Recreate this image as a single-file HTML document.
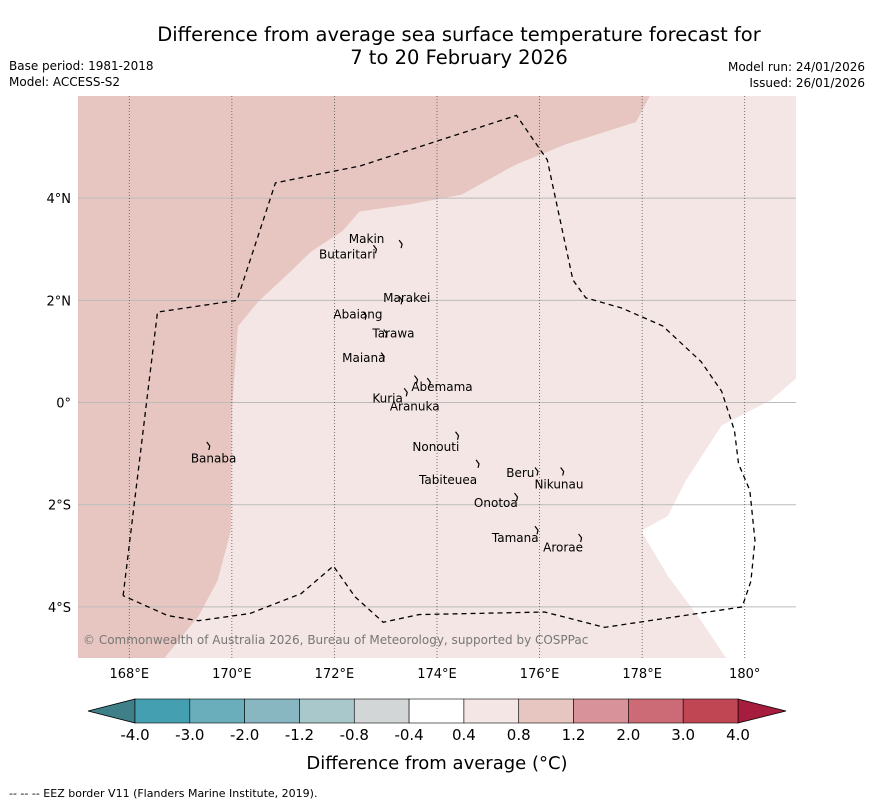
<!DOCTYPE html>
<html><head><meta charset="utf-8"><style>
body{margin:0;background:#fff;font-family:"Liberation Sans","DejaVu Sans",sans-serif}
svg{display:block}
</style></head><body>
<svg id="c" width="873" height="804" xmlns="http://www.w3.org/2000/svg" font-family="DejaVu Sans, Liberation Sans, sans-serif">
<text x="459" y="41" font-size="19.5" text-anchor="middle">Difference from average sea surface temperature forecast for</text>
<text x="459" y="64" font-size="19.5" text-anchor="middle">7 to 20 February 2026</text>
<text x="9" y="70" font-size="12">Base period: 1981-2018</text>
<text x="9" y="86" font-size="12">Model: ACCESS-S2</text>
<text x="865" y="71" font-size="12" text-anchor="end">Model run: 24/01/2026</text>
<text x="865" y="87" font-size="12" text-anchor="end">Issued: 26/01/2026</text>
<g id="map"></g>
<g id="cb"></g>
<text x="437" y="769" font-size="18" text-anchor="middle">Difference from average (°C)</text>
<text x="9" y="797" font-size="11">-- -- -- EEZ border V11 (Flanders Marine Institute, 2019).</text>
</svg>
<script>
const lonTicks=[168,170,172,174,176,178,180];
const latTicks=[4,2,0,-2,-4];
const levels=["-4.0","-3.0","-2.0","-1.2","-0.8","-0.4","0.4","0.8","1.2","2.0","3.0","4.0"];
const levelColors=["#44a0b0","#6aaebb","#88b7c2","#a8c8cc","#d3d6d6","#ffffff","#f4e6e4","#e7c6c1","#d8939a","#cc6b76","#c14654"];
const islandNames=["Makin","Butaritari","Marakei","Abaiang","Tarawa","Maiana","Abemama","Kuria","Aranuka","Nonouti","Banaba","Beru","Nikunau","Tabiteuea","Onotoa","Tamana","Arorae"];
const islandLon=[173.3,172.8,173.3,172.6,173.0,172.95,173.85,173.4,173.6,174.4,169.55,175.95,176.45,174.8,175.55,175.95,176.8];
const islandLat=[3.1,3.0,2.0,1.7,1.35,0.9,0.4,0.2,0.45,-0.65,-0.85,-1.35,-1.35,-1.2,-1.85,-2.5,-2.65];
const islandLabelLon=[172.28,171.7,172.95,171.98,172.74,172.15,173.5,172.74,173.08,173.52,169.2,175.35,175.9,173.65,174.72,175.07,176.07];
const islandLabelLat=[3.2,2.9,2.05,1.72,1.35,0.87,0.3,0.08,-0.08,-0.87,-1.1,-1.38,-1.6,-1.52,-1.97,-2.65,-2.84];
const eezLon=[167.88,168.55,170.1,170.85,172.5,175.55,176.15,176.65,176.9,177.6,178.4,179.15,179.55,179.8,179.88,180.1,180.2,180.12,179.95,177.27,176.1,173.65,172.95,172.4,171.98,171.35,170.35,169.35,168.75,167.88];
const eezLat=[-3.78,1.77,2.0,4.3,4.63,5.62,4.75,2.4,2.05,1.85,1.5,0.8,0.22,-0.55,-1.2,-1.72,-2.7,-3.5,-4.0,-4.4,-4.1,-4.15,-4.3,-3.8,-3.2,-3.74,-4.13,-4.27,-4.17,-3.78];
const darkLon=[167,178.15,177.88,176.5,175.52,174.48,173.47,172.49,172.15,171.55,171.15,170.5,170.12,170,169.98,169.72,169.35,168.67,167];
const darkLat=[6,6,5.49,5.05,4.65,4.07,3.88,3.74,3.35,2.96,2.57,1.96,1.49,-0.16,-2.51,-3.49,-4.18,-5.02,-5.1];
const warmWhiteLon=[181,180.5,179.55,178.85,178.5,177.98,178.5,179.15,179.65,181];
const warmWhiteLat=[0.47,0.04,-0.45,-1.53,-2.22,-2.51,-3.39,-4.27,-5.02,-5.02];
const X0=78,X1=796,Y0=96,Y1=658;
const lon=v=>X0+(v-167)*(X1-X0)/14;
const lat=v=>Y0+(6-v)*(Y1-Y0)/11;
const NS="http://www.w3.org/2000/svg";
const map=document.getElementById('map');
function mk(t,a,p){const e=document.createElementNS(NS,t);for(const k in a)e.setAttribute(k,a[k]);(p||map).appendChild(e);return e;}
const clip=mk('clipPath',{id:'mc'});mk('rect',{x:X0,y:Y0,width:X1-X0,height:Y1-Y0},clip);
const g=mk('g',{'clip-path':'url(#mc)'});
let e=mk('rect',{x:X0,y:Y0,width:X1-X0,height:Y1-Y0,fill:levelColors[6]},g);

const pts=(a,b)=>a.map((v,i)=>lon(v)+','+lat(b[i])).join(' ');
e=mk('polygon',{points:pts(darkLon,darkLat),fill:levelColors[7]},g);

e=mk('polygon',{points:pts(warmWhiteLon,warmWhiteLat),fill:'#ffffff'},g);

latTicks.forEach(v=>{const l=mk('line',{x1:X0,x2:X1,y1:lat(v),y2:lat(v),stroke:'#bbb','stroke-width':1},g);

const t=mk('text',{x:71,y:lat(v)+5,'font-size':13,'text-anchor':'end'});t.textContent=v==0?'0°':Math.abs(v)+'°'+(v>0?'N':'S');
});
lonTicks.forEach(v=>{const l=mk('line',{x1:lon(v),x2:lon(v),y1:Y0,y2:Y1,stroke:'#555','stroke-width':0.8,'stroke-dasharray':'1,2'},g);

const t=mk('text',{x:lon(v),y:678,'font-size':13,'text-anchor':'middle'});t.textContent=v==180?'180°':v+'°E';
});
e=mk('polyline',{points:pts(eezLon,eezLat),fill:'none',stroke:'#000','stroke-width':1.3,'stroke-dasharray':'5,4'},g);

islandNames.forEach((n,i)=>{const m=mk('path',{d:`M${lon(islandLon[i])-2},${lat(islandLat[i])-4} l3,4 l-1,4`,stroke:'#000',fill:'none','stroke-width':1.2},g);

const t=mk('text',{x:lon(islandLabelLon[i]),y:lat(islandLabelLat[i])+4,'font-size':12},g);t.textContent=n;
});
e=mk('text',{x:83,y:644,'font-size':12,fill:'#777'},g);e.textContent='© Commonwealth of Australia 2026, Bureau of Meteorology, supported by COSPPac';

const cb=document.getElementById('cb');
const CB0=135,CB1=738,cy0=699,cy1=723,w=(CB1-CB0)/levelColors.length;
e=mk('polygon',{points:`${CB0},${cy0} ${CB0},${cy1} 88,711`,fill:'#3e7f88',stroke:'#000','stroke-width':0.8},cb);

e=mk('polygon',{points:`${CB1},${cy0} ${CB1},${cy1} 786,711`,fill:'#a61d3d',stroke:'#000','stroke-width':0.8},cb);

levelColors.forEach((c,i)=>{const r=mk('rect',{x:CB0+i*w,y:cy0,width:w,height:cy1-cy0,fill:c,stroke:'#000','stroke-width':0.6},cb);
});
levels.forEach((s,i)=>{const t=mk('text',{x:CB0+i*w,y:740,'font-size':15,'text-anchor':'middle'},cb);t.textContent=s;
});
</script>
</body></html>
